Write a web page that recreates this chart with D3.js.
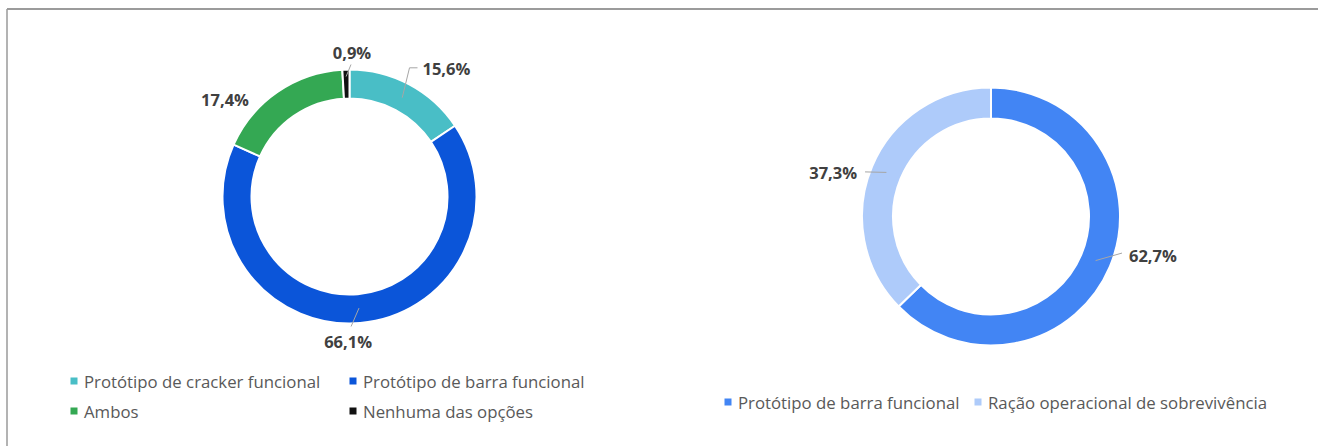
<!DOCTYPE html>
<html>
<head>
<meta charset="utf-8">
<script src="https://cdn.jsdelivr.net/npm/d3@7"></script>
<style>
  body { margin: 0; background: #fff; }
  svg text { font-family: "Open Sans", "Liberation Sans", sans-serif; }
</style>
</head>
<body>
<div id="chart"></div>
<script>
// Data
const leftCategories = ['Protótipo de cracker funcional', 'Protótipo de barra funcional', 'Ambos', 'Nenhuma das opções']
const leftValues = [15.6, 66.1, 17.4, 0.9]
const leftColors = ['#49bec6', '#0b55d9', '#34a853', '#111111']

const rightCategories = ['Protótipo de barra funcional', 'Ração operacional de sobrevivência']
const rightValues = [62.7, 37.3]
const rightColors = ['#4285f4', '#aecbfa']

const fmt = v => d3.format('.1f')(v).replace('.', ',') + '%'

// Dimensions
const dimensions = { width: 1318, height: 446 }

const svg = d3.select('#chart')
  .append('svg')
  .attr('width', dimensions.width)
  .attr('height', dimensions.height)

// frame (top + left edge of the screenshot)
svg.append('line').attr('x1', 7).attr('y1', 9).attr('x2', dimensions.width).attr('y2', 9)
  .attr('stroke', '#7a7a7a').attr('stroke-width', 1.5)
svg.append('line').attr('x1', 7).attr('y1', 9).attr('x2', 7).attr('y2', dimensions.height)
  .attr('stroke', '#9a9a9a').attr('stroke-width', 1.5)

const rad = deg => deg * Math.PI / 180

// label layout: leader start radius, leader end angle/radius, tail, text offset
const leftLabelLayout = [
  { r0: 112, a1: 25, r1: 142, tail: 8, dx: 5, dy: 1, anchor: 'start' },
  { r0: 112, a1: 179.3, r1: 130, tail: 0, dx: -3, dy: 15, anchor: 'middle' },
  { r0: null, a1: 308, r1: 158, tail: 0, dx: 0, dy: 0, anchor: 'middle' },
  { r0: 120, a1: 0.65, r1: 132, tail: 0, dx: 1, dy: -12, anchor: 'middle' },
]
const rightLabelLayout = [
  { r0: 113.5, a1: 105.6, r1: 136, tail: 0, dx: 7, dy: 2, anchor: 'start' },
  { r0: 113.5, a1: 289.5, r1: 133.6, tail: 0, dx: -8, dy: 1, anchor: 'end' },
]

function donut({ cx, cy, outer, inner, values, colors, layout }) {
  const g = svg.append('g').attr('transform', `translate(${cx}, ${cy})`)
  const pie = d3.pie().sort(null).value(d => d)
  const arcs = pie(values)
  const arc = d3.arc().innerRadius(inner).outerRadius(outer)

  g.selectAll('path.slice')
    .data(arcs)
    .join('path')
    .attr('class', 'slice')
    .attr('d', arc)
    .attr('fill', (d, i) => colors[i])
    .attr('stroke', '#fff')
    .attr('stroke-width', 2)

  arcs.forEach((d, i) => {
    const L = layout[i]
    const mid = (d.startAngle + d.endAngle) / 2
    const end = d3.pointRadial(rad(L.a1), L.r1)
    if (L.r0 !== null) {
      const start = d3.pointRadial(mid, L.r0)
      const pts = [start, end]
      if (L.tail) pts.push([end[0] + L.tail, end[1]])
      g.append('path')
        .attr('d', d3.line()(pts))
        .attr('fill', 'none')
        .attr('stroke', '#a6a6a6')
        .attr('stroke-width', 1)
    }
    const tx = end[0] + L.tail + L.dx
    const ty = end[1] + L.dy
    g.append('text')
      .attr('x', tx)
      .attr('y', ty)
      .attr('text-anchor', L.anchor)
      .attr('dominant-baseline', 'central')
      .attr('font-size', 16.5)
      .attr('font-weight', 700)
      .attr('fill', '#404040')
      .text(fmt(d.data))
  })
}

donut({ cx: 349.5, cy: 196.5, outer: 127, inner: 98, values: leftValues, colors: leftColors, layout: leftLabelLayout })
donut({ cx: 991, cy: 216.5, outer: 129, inner: 98, values: rightValues, colors: rightColors, layout: rightLabelLayout })

// Legends
function legend(items, colors, slots) {
  const g = svg.append('g')
  items.forEach((name, i) => {
    const s = slots[i]
    g.append('rect')
      .attr('x', s.x - 3.5).attr('y', s.y - 3.5)
      .attr('width', 7).attr('height', 7)
      .attr('fill', colors[i])
    g.append('text')
      .attr('x', s.x + 10)
      .attr('y', s.y)
      .attr('dominant-baseline', 'central')
      .attr('font-size', 16.8)
      .attr('fill', '#595959')
      .text(name)
  })
}

legend(leftCategories, leftColors, [
  { x: 74, y: 381 }, { x: 353, y: 381 }, { x: 74, y: 411 }, { x: 353, y: 411 }
])
legend(rightCategories, rightColors, [
  { x: 728, y: 402 }, { x: 978, y: 402 }
])
</script>
</body>
</html>
